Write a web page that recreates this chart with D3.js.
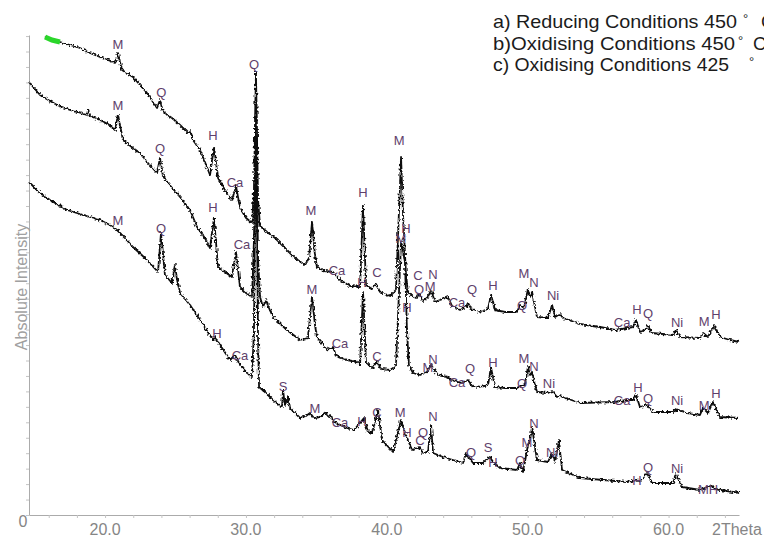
<!DOCTYPE html>
<html>
<head>
<script src="https://d3js.org/d3.v7.min.js"></script>
<style>
  body { margin: 0; background: #fff; font-family: "Liberation Sans", Arial, sans-serif; }
</style>
</head>
<body>
<div id="chart"></div>
<script>
var width = 764, height = 538;

// [2Theta (deg), absolute intensity (arb. units)]
var seriesA = [
  [15.74,478],[16.23,475],[16.80,473],[17.51,470],[18.22,467],[18.93,462],[19.64,458],[20.21,455],[20.70,452],[20.92,462],
  [21.06,453],[21.20,445],[21.98,438],[22.48,430],[22.98,422],[23.69,407],[23.90,415],[24.11,403],[24.75,397],[25.32,390],
  [25.89,382],[26.03,384],[26.24,375],[26.74,365],[27.09,353],[27.45,340],[27.73,368],[28.02,337],[28.51,325],[29.01,315],
  [29.29,329],[29.58,307],[30.01,297],[30.43,292],[30.57,325],[30.71,443],[30.86,315],[31.00,289],[31.50,283],[32.07,277],
  [32.91,265],[33.48,257],[34.19,250],[34.48,257],[34.69,293],[34.90,260],[35.04,248],[35.61,244],[36.18,243],[36.68,235],
  [37.39,229],[38.10,228],[38.31,310],[38.52,230],[38.95,226],[39.23,231],[39.52,223],[40.23,219],[40.65,225],[41.01,358],
  [41.15,300],[41.22,282],[41.36,240],[41.50,223],[41.86,218],[42.14,217],[42.29,221],[42.57,214],[42.92,218],[43.14,225],
  [43.42,213],[43.78,215],[43.99,216],[44.34,218],[44.63,209],[45.20,205],[45.62,208],[45.76,212],[46.05,205],[46.62,203],
  [47.18,206],[47.40,220],[47.68,205],[48.39,203],[49.24,203],[49.46,210],[49.74,207],[50.02,226],[50.17,218],[50.31,223],
  [50.66,198],[51.44,197],[51.73,210],[51.94,198],[52.29,201],[52.51,197],[53.71,191],[55.13,188],[56.20,185],[57.48,188],
  [57.69,195],[57.97,183],[58.33,185],[58.54,189],[58.82,182],[60.32,180],[60.53,185],[60.81,178],[62.23,177],[62.45,182],
  [62.80,178],[63.23,190],[63.65,178],[64.36,175],[65.00,173]
];

var seriesB = [
  [14.60,433],[15.38,420],[16.09,414],[16.59,410],[17.51,405],[18.22,402],[18.72,400],[18.79,405],[18.93,399],[19.64,395],
  [20.21,391],[20.70,385],[20.92,400],[21.06,390],[21.27,375],[21.98,367],[22.48,362],[22.98,353],[23.69,342],[23.90,357],
  [24.11,339],[24.40,333],[25.32,318],[26.03,305],[26.53,288],[27.09,277],[27.45,267],[27.73,297],[28.02,248],[28.51,243],
  [29.01,238],[29.29,263],[29.58,228],[30.01,222],[30.43,218],[30.57,275],[30.71,425],[30.86,255],[31.00,218],[31.21,208],
  [31.43,215],[31.57,209],[31.92,198],[32.91,185],[33.84,175],[34.40,177],[34.69,218],[34.90,190],[35.04,178],[35.75,165],
  [36.18,168],[36.40,159],[37.17,155],[37.88,153],[38.10,150],[38.31,223],[38.52,153],[38.95,147],[39.30,153],[39.59,146],
  [40.23,145],[40.65,149],[41.01,273],[41.15,265],[41.29,253],[41.43,185],[41.57,150],[41.86,142],[42.36,140],[42.85,143],
  [43.14,150],[43.63,140],[44.27,138],[44.63,135],[44.98,133],[45.34,132],[45.76,135],[46.05,129],[46.62,128],[47.18,130],
  [47.40,147],[47.68,128],[48.39,127],[49.24,127],[49.60,130],[49.81,131],[50.02,148],[50.17,140],[50.31,142],[50.66,123],
  [51.44,122],[51.73,124],[52.08,118],[52.29,119],[53.71,112],[56.20,113],[57.05,115],[57.48,115],[57.69,120],[57.97,108],
  [58.47,110],[58.89,103],[60.32,103],[60.53,106],[61.31,102],[62.23,100],[62.45,107],[62.80,102],[63.15,113],[63.65,98],
  [65.00,97]
];

var seriesC = [
  [14.60,333],[15.38,322],[16.09,315],[17.30,305],[18.22,301],[18.93,298],[19.64,295],[20.35,290],[20.85,285],[21.41,277],
  [21.98,268],[22.83,257],[23.76,243],[23.97,282],[24.11,262],[24.25,240],[24.75,232],[24.96,250],[25.10,236],[25.32,222],
  [26.03,210],[26.74,195],[27.66,175],[27.80,178],[28.16,170],[28.87,155],[29.22,160],[29.58,150],[30.08,142],[30.43,138],
  [30.57,185],[30.71,395],[30.86,175],[30.93,128],[31.35,123],[31.92,115],[32.56,108],[32.63,125],[32.77,110],[32.99,118],
  [33.13,107],[33.84,97],[34.26,99],[34.55,102],[34.83,97],[35.25,98],[35.68,103],[35.82,98],[36.04,100],[36.18,94],
  [36.68,90],[37.17,87],[37.67,85],[38.38,97],[38.66,83],[38.95,82],[39.37,105],[39.66,75],[40.44,63],[41.01,95],
  [41.22,85],[41.79,65],[42.29,68],[42.57,62],[42.92,63],[43.14,90],[43.28,62],[43.99,58],[45.41,52],[45.62,62],
  [46.12,52],[46.83,52],[47.04,55],[47.32,58],[47.54,53],[48.04,47],[49.24,45],[49.46,52],[49.67,43],[50.02,70],
  [50.17,75],[50.31,88],[50.66,55],[51.44,53],[51.73,62],[51.94,53],[52.22,75],[52.44,45],[53.71,37],[57.05,33],
  [57.69,35],[57.97,33],[58.47,42],[58.82,32],[60.32,32],[60.53,41],[60.95,28],[62.23,25],[63.08,30],[63.30,26],
  [65.00,22]
];

// phase labels: [2Theta, intensity, text]
var labelsA = [
  [20.92,471,"M"],[24.00,423,"Q"],[27.66,380,"H"],[29.22,333,"Ca"],[30.57,451,"Q"],[34.62,305,"M"],[36.46,245,"Ca"],
  [38.31,323,"H"],[39.30,243,"C"],[40.87,375,"M"],[42.21,240,"C"],[42.29,226,"Q"],[43.07,229,"M"],[43.28,241,"N"],
  [44.98,213,"Ca"],[46.05,226,"Q"],[47.54,230,"H"],[49.60,210,"Q"],[49.74,242,"M"],[50.45,233,"N"],[51.80,220,"Ni"],
  [56.70,193,"Ca"],[57.76,206,"H"],[58.54,202,"Q"],[60.60,193,"Ni"],[62.52,194,"M"],[63.37,201,"H"]
];
var labelsB = [
  [20.92,410,"M"],[23.90,367,"Q"],[27.66,308,"H"],[29.72,271,"Ca"],[34.69,226,"M"],[36.68,172,"Ca"],[38.24,233,"H"],
  [39.30,159,"C"],[41.01,277,"M"],[41.36,287,"H"],[41.43,208,"H"],[42.92,148,"M"],[43.28,156,"N"],[44.98,133,"Ca"],
  [45.91,147,"Q"],[47.54,153,"H"],[49.60,132,"Q"],[49.74,157,"M"],[50.45,149,"N"],[51.51,132,"Ni"],[56.70,115,"Ca"],
  [57.83,128,"H"],[58.54,117,"Q"],[60.60,115,"Ni"],[62.52,110,"M"],[63.37,122,"H"]
];
var labelsC = [
  [20.92,295,"M"],[23.97,287,"Q"],[27.95,182,"H"],[29.58,160,"Ca"],[32.63,129,"S"],[34.90,107,"M"],[36.68,93,"Ca"],
  [38.24,94,"H"],[39.30,103,"C"],[40.94,103,"M"],[41.43,83,"H"],[42.36,75,"C"],[42.57,83,"Q"],[43.28,99,"N"],
  [45.98,63,"Q"],[47.18,68,"S"],[47.54,53,"H"],[49.46,55,"Q"],[49.95,73,"M"],[50.45,92,"N"],[51.73,63,"Ni"],
  [57.76,35,"H"],[58.54,48,"Q"],[60.60,47,"Ni"],[62.80,26,"MH"]
];

var legendLines = [
  { text: "a) Reducing Conditions 450", deg: "\u00b0", tail: "C" },
  { text: "b)Oxidising Conditions 450", deg: "\u00b0", tail: "C" },
  { text: "c) Oxidising Conditions 425", deg: "\u00b0", tail: "" }
];
var xTickLabels = [20, 30, 40, 50, 60];

var svg = d3.select("#chart").append("svg")
  .attr("width", width).attr("height", height);

var defs = svg.append("defs");
var f = defs.append("filter").attr("id", "grain")
  .attr("x", "-2%").attr("y", "-2%").attr("width", "104%").attr("height", "104%");
f.append("feTurbulence").attr("type", "fractalNoise").attr("baseFrequency", "0.45")
  .attr("numOctaves", 1).attr("seed", 4).attr("result", "t");
f.append("feDisplacementMap").attr("in", "SourceGraphic").attr("in2", "t")
  .attr("scale", 4.5).attr("xChannelSelector", "R").attr("yChannelSelector", "G");

var x = d3.scaleLinear().domain([14.6, 65]).range([29, 739]);
var y = d3.scaleLinear().domain([0, 480]).range([515, 35]);

// axes
svg.append("g").attr("transform", "translate(0,515)")
  .call(d3.axisBottom(x).tickValues(d3.range(16, 65, 2)).tickSize(3).tickSizeOuter(0).tickFormat(""));
svg.append("g").attr("transform", "translate(29,0)")
  .call(d3.axisLeft(y).tickValues(d3.range(0, 480, 15.45)).tickSize(3).tickSizeOuter(0).tickFormat(""));
svg.selectAll(".domain").attr("stroke", "#ababab");
svg.selectAll(".tick line").attr("stroke", "#c4c4c4");

svg.selectAll(".xlab").data(xTickLabels).enter().append("text")
  .attr("x", function(d) { return x(d); }).attr("y", 535)
  .attr("text-anchor", "middle").attr("font-size", 16).attr("fill", "#858585")
  .text(function(d) { return d3.format(".1f")(d); });

svg.append("text").attr("x", 23).attr("y", 527).attr("text-anchor", "middle")
  .attr("font-size", 16).attr("fill", "#858585").text("0");
svg.append("text").attr("x", 712).attr("y", 535)
  .attr("font-size", 16).attr("fill", "#858585").text("2Theta");
svg.append("text").attr("transform", "translate(27,287) rotate(-90)")
  .attr("text-anchor", "middle").attr("font-size", 16).attr("fill", "#a0a0a0")
  .text("Absolute Intensity");

// curves
var line = d3.line().x(function(d) { return x(d[0]); }).y(function(d) { return y(d[1]); });

[seriesA, seriesB, seriesC].forEach(function(s) {
  svg.append("path").datum(s)
    .attr("d", line).attr("fill", "none")
    .attr("stroke", "#0d0d0d").attr("stroke-width", 1.8)
    .attr("stroke-linejoin", "round")
    .attr("filter", "url(#grain)");
});

// green cursor at start of curve a
svg.append("path").datum(seriesA.filter(function(d) { return d[0] <= 16.8; }))
  .attr("d", line).attr("fill", "none")
  .attr("stroke", "#2bd62b").attr("stroke-width", 5);

// phase labels
[labelsA, labelsB, labelsC].forEach(function(ls) {
  svg.selectAll(null).data(ls).enter().append("text")
    .attr("x", function(d) { return x(d[0]); })
    .attr("y", function(d) { return y(d[1]); })
    .attr("text-anchor", "middle").attr("dominant-baseline", "central")
    .attr("font-size", 13).attr("fill", "#5f3f6c")
    .text(function(d) { return d[2]; });
});

// legend (runs off the right edge as in the original)
var lg = svg.append("g");
var degX = [743, 738, 749];
var tailX = [761, 753, 0];
var textLen = [244, 242, 236];
legendLines.forEach(function(l, i) {
  var yy = 28 + i * 21.5;
  lg.append("text").attr("x", 493).attr("y", yy)
    .attr("font-size", 18.5).attr("fill", "#1b1b1b")
    .attr("textLength", textLen[i]).attr("lengthAdjust", "spacingAndGlyphs")
    .text(l.text);
  lg.append("text").attr("x", degX[i]).attr("y", yy - 5)
    .attr("font-size", 13).attr("fill", "#1b1b1b").text(l.deg);
  if (l.tail) {
    lg.append("text").attr("x", tailX[i]).attr("y", yy)
      .attr("font-size", 18.5).attr("fill", "#1b1b1b").text(l.tail);
  }
});
</script>
</body>
</html>
